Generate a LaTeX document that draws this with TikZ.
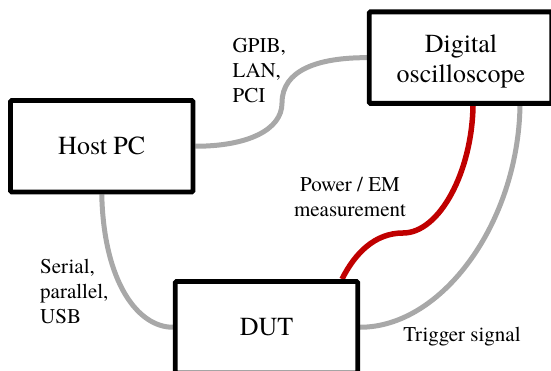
\documentclass[tikz,border=0pt]{standalone}
\usepackage{fontspec}
\newfontfamily\diagserif{texgyretermes}[Extension=.otf,UprightFont=*-regular,BoldFont=*-bold]
\usetikzlibrary{backgrounds}
\definecolor{cablegray}{RGB}{168,168,168}
\definecolor{probered}{RGB}{192,0,0}
\begin{document}
\begin{tikzpicture}[x=1pt,y=-1pt,
  devbox/.style={draw=black,line width=4.8pt,fill=white,minimum width=182.5pt,minimum height=91.5pt,inner sep=0pt,rounded corners=1.2pt,font=\diagserif\fontsize{26}{30}\selectfont,align=center},
  boxtext/.style={inner sep=0pt,font=\diagserif\fontsize{26}{30}\selectfont,align=center},
  cable/.style={draw=cablegray,line width=5pt},
  probe/.style={draw=probered,line width=5.5pt},
  lbl/.style={inner sep=0pt,font=\diagserif\fontsize{21}{25}\selectfont}]
\useasboundingbox (0,0) rectangle (551,371);
\clip (0,0) rectangle (551,371);
\node[devbox] (host) at (101.75,146.25) {Host PC};
\node[devbox] (scope) at (460.5,57.65) {};
\node[boxtext] (scopetext) at (461,61) {Digital\\oscilloscope};
\node[devbox] (dut) at (266.5,327.25) {DUT};
\coordinate (gbend) at (282,103);
\coordinate (rbend) at (403,233);
\begin{scope}[on background layer]
\draw[cable] (host.east) .. controls +(52,0) and +(0,27) .. (gbend) .. controls +(0,-33) and +(-49,0) .. (scope.west);
\draw[cable] (host.south) .. controls +(2,88) and +(-35,0) .. (dut.west);
\draw[probe] ([xshift=12.5pt]scope.south) .. controls +(-1,65) and +(37,0) .. (rbend) .. controls +(-28,0) and +(13,-26) .. ([xshift=75.5pt]dut.north);
\draw[cable] ([xshift=59.5pt]scope.south) .. controls +(-2,117) and +(82,0) .. (dut.east);
\end{scope}
\node[lbl,anchor=north west,align=left] (ifaceA) at (232.5,37.8) {GPIB,\\LAN,\\PCI};
\node[lbl,anchor=north west,align=left] (ifaceB) at (40,259.4) {Serial,\\parallel,\\USB};
\node[lbl,anchor=north,align=center] (powerlbl) at (350,177.5) {Power / EM\\measurement};
\node[lbl,anchor=base] (triglbl) at (462,341.7) {Trigger signal};
\end{tikzpicture}
\end{document}
